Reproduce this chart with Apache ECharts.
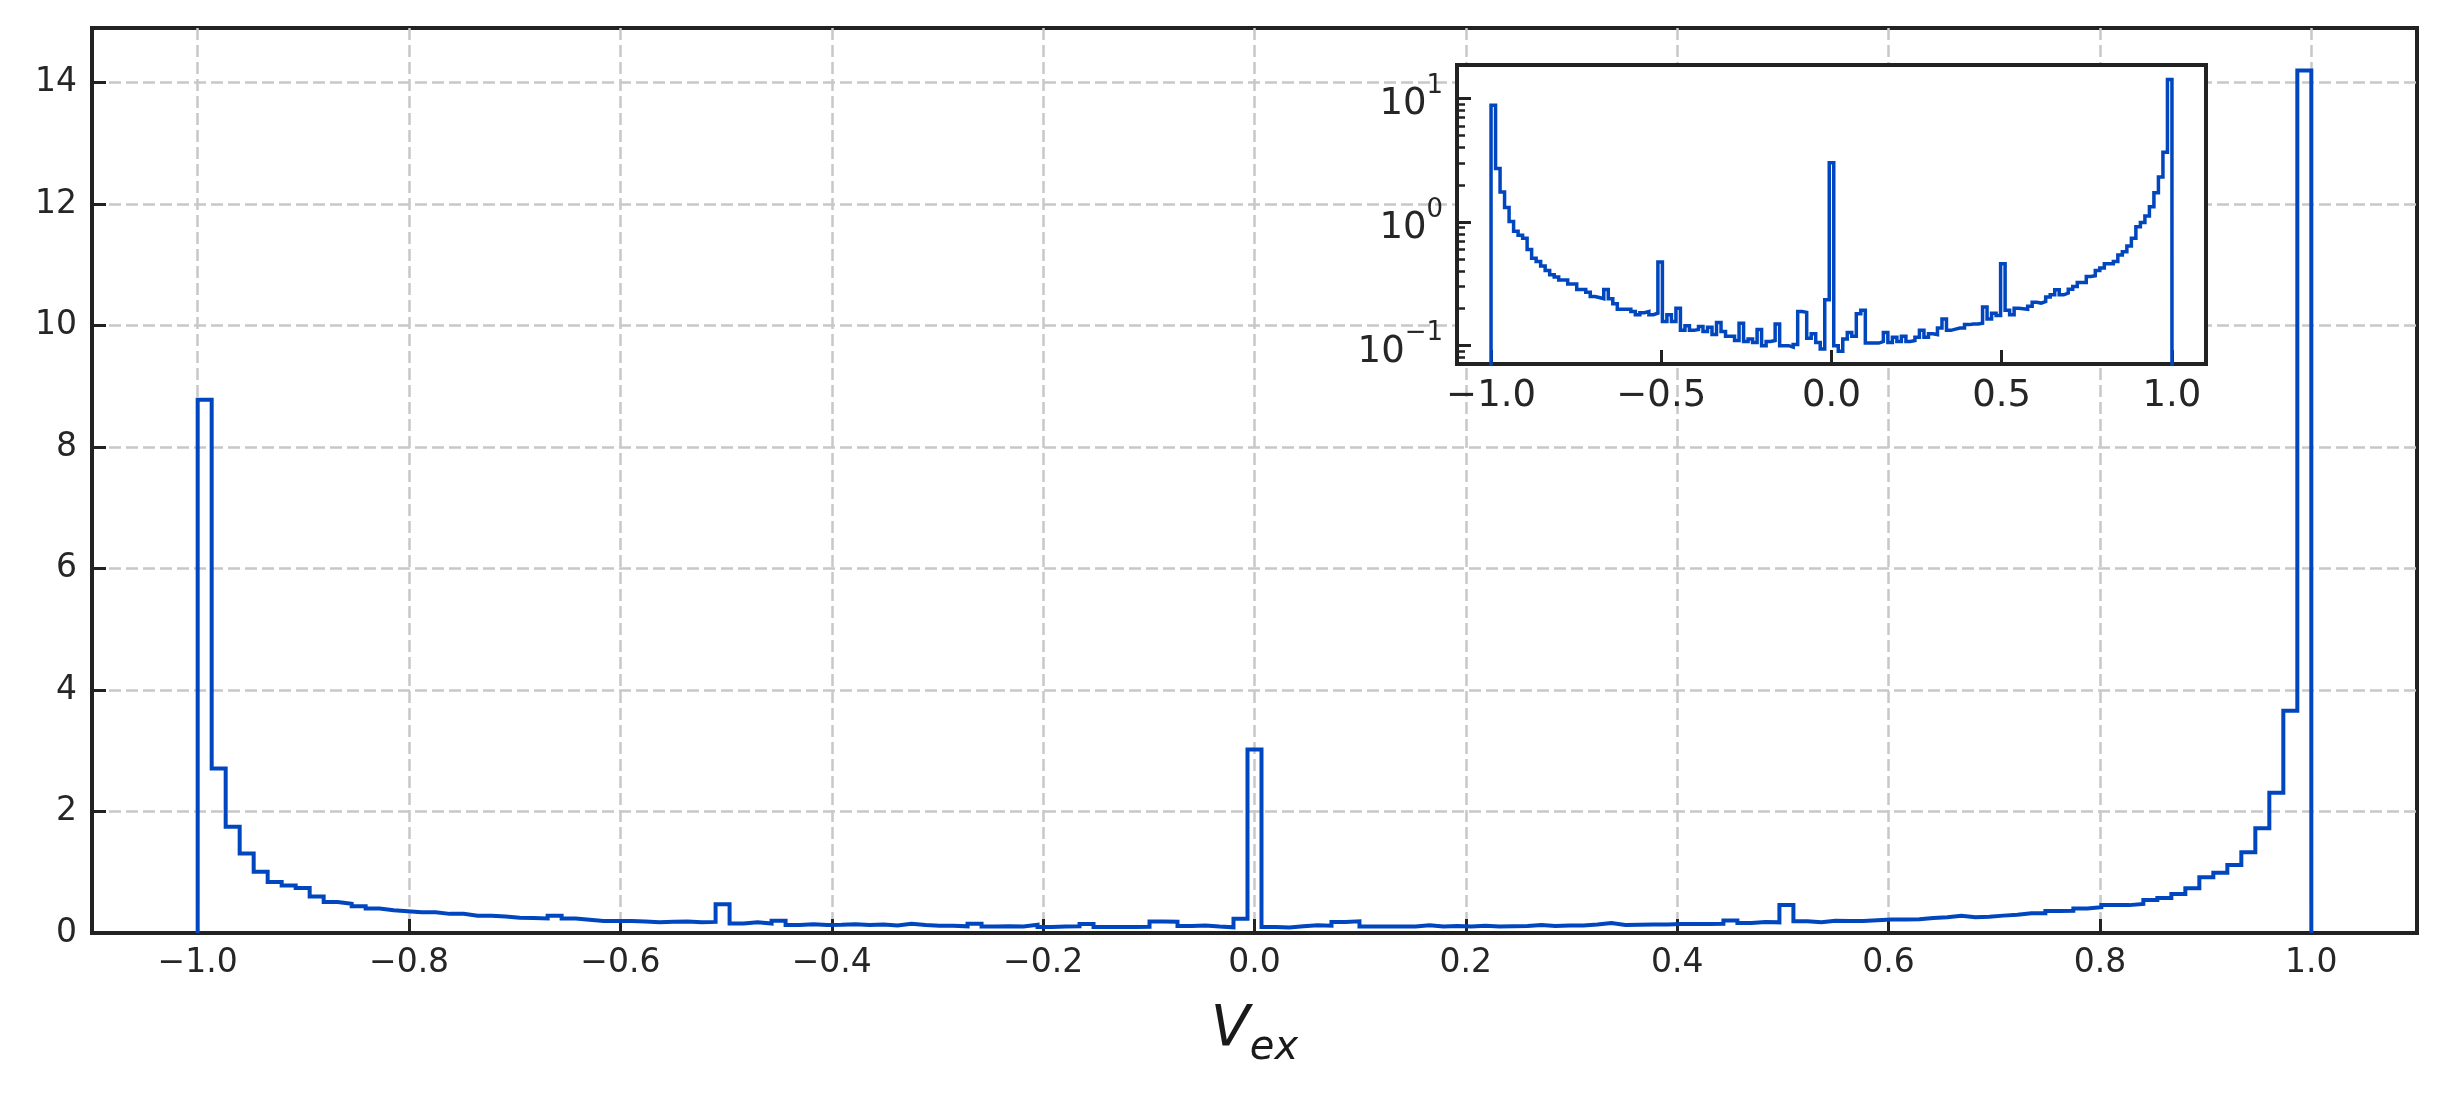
<!DOCTYPE html>
<html><head><meta charset="utf-8">
<script src="https://cdn.jsdelivr.net/npm/echarts@6/dist/echarts.min.js"></script>
<style>html,body{margin:0;padding:0;background:#fff}#c{width:2447px;height:1093px}</style>
</head><body><div id="c"></div>
<script>
// Histogram of V_ex: 151 equal bins over [-1, 1], density values
const BIN_MIN = -1;
const BIN_MAX = 1;
const densities = [
  8.78, 2.71, 1.75, 1.31, 1.01, 0.84, 0.78, 0.74, 0.60, 0.51,
  0.48, 0.44, 0.405, 0.375, 0.36, 0.34, 0.34, 0.315, 0.315, 0.285,
  0.285, 0.27, 0.25, 0.245, 0.24, 0.285, 0.24, 0.218, 0.197, 0.197,
  0.197, 0.189, 0.178, 0.185, 0.189, 0.178, 0.183, 0.475, 0.157, 0.178,
  0.157, 0.201, 0.133, 0.145, 0.133, 0.135, 0.143, 0.130, 0.141, 0.123,
  0.154, 0.130, 0.119, 0.119, 0.110, 0.152, 0.108, 0.113, 0.106, 0.135,
  0.100, 0.108, 0.110, 0.150, 0.100, 0.100, 0.0975, 0.102, 0.189, 0.186,
  0.115, 0.125, 0.106, 0.094, 0.235, 3.02, 0.100, 0.090, 0.113, 0.128,
  0.119, 0.181, 0.193, 0.105, 0.105, 0.105, 0.108, 0.128, 0.106, 0.117,
  0.108, 0.119, 0.108, 0.110, 0.117, 0.133, 0.117, 0.125, 0.123, 0.139,
  0.164, 0.133, 0.136, 0.139, 0.139, 0.148, 0.150, 0.150, 0.152, 0.205,
  0.164, 0.183, 0.175, 0.459, 0.193, 0.178, 0.201, 0.199, 0.197, 0.208,
  0.224, 0.221, 0.228, 0.247, 0.258, 0.283, 0.258, 0.266, 0.286, 0.301,
  0.324, 0.324, 0.362, 0.367, 0.405, 0.424, 0.459, 0.459, 0.479, 0.542,
  0.576, 0.641, 0.738, 0.917, 0.991, 1.118, 1.33, 1.725, 2.31, 3.66,
  14.2
];
const xTicks = [-1.0, -0.8, -0.6, -0.4, -0.2, 0.0, 0.2, 0.4, 0.6, 0.8, 1.0];
const yTicks = [0, 2, 4, 6, 8, 10, 12, 14];
const insetXTicks = [-1.0, -0.5, 0.0, 0.5, 1.0];
const insetYTicks = [0.1, 1, 10];
const insetYMinorTicks = [0.08, 0.09, 0.2, 0.3, 0.4, 0.5, 0.6, 0.7, 0.8, 0.9, 2, 3, 4, 5, 6, 7, 8, 9];

const FONT = 'DejaVu Sans';
const BLUE = '#0046BE';
const DARK = '#222222';
const LABEL = '#262626';

function outline(floor) {
  const n = densities.length;
  const w = (BIN_MAX - BIN_MIN) / n;
  const pts = [[BIN_MIN, floor]];
  densities.forEach((v, k) => {
    pts.push([BIN_MIN + k * w, v]);
    pts.push([BIN_MIN + (k + 1) * w, v]);
  });
  pts.push([BIN_MAX, floor]);
  return pts;
}
const fmtX = v => (v < 0 ? '\u2212' : '') + Math.abs(v).toFixed(1);
const fmtLog = v => {
  const e = Math.round(Math.log10(v));
  return '{b|10}{s|' + (e < 0 ? '\u2212' + (-e) : String(e)) + '}';
};
const noLine = {show: false, onZero: false};

const chart = echarts.init(document.getElementById('c'), null, {renderer: 'canvas'});
chart.setOption({
  animation: false,
  backgroundColor: '#ffffff',
  grid: [
    {left: 92, top: 28, width: 2325, height: 905, show: true, borderColor: DARK, borderWidth: 4,
     backgroundColor: 'rgba(0,0,0,0)', outerBoundsMode: 'none', containLabel: false, z: 0},
    {left: 1457, top: 65, width: 749, height: 299, show: true, borderColor: DARK, borderWidth: 4,
     backgroundColor: '#ffffff', outerBoundsMode: 'none', containLabel: false, z: 3}
  ],
  xAxis: [
    {type: 'value', gridIndex: 0, min: -1.1, max: 1.1, z: 1, position: 'bottom',
     name: '{v|V}{s|ex}', nameLocation: 'middle', nameGap: 70,
     nameTextStyle: {rich: {
       v: {fontFamily: FONT, fontStyle: 'italic', fontSize: 57, lineHeight: 57, color: '#1a1a1a', verticalAlign: 'top'},
       s: {fontFamily: FONT, fontStyle: 'italic', fontSize: 40, lineHeight: 40, color: '#1a1a1a', verticalAlign: 'top', padding: [26, 0, 0, 0]}
     }},
     axisLine: noLine,
     axisTick: {show: true, inside: true, length: 14, customValues: xTicks, lineStyle: {color: DARK, width: 3}},
     axisLabel: {show: true, customValues: xTicks, formatter: fmtX, fontFamily: FONT, fontSize: 33, color: LABEL, margin: 14},
     splitLine: {show: true, lineStyle: {color: '#c8c8c8', width: 2.5, type: [12, 5]}}
    },
    {type: 'value', gridIndex: 1, min: -1.1, max: 1.1, z: 3, position: 'bottom',
     axisLine: noLine,
     axisTick: {show: true, inside: true, length: 14, customValues: insetXTicks, lineStyle: {color: DARK, width: 3}},
     axisLabel: {show: true, customValues: insetXTicks, formatter: fmtX, fontFamily: FONT, fontSize: 37, color: LABEL, margin: 14},
     splitLine: {show: false}
    }
  ],
  yAxis: [
    {type: 'value', gridIndex: 0, min: 0, max: 14.9, z: 1, position: 'left',
     axisLine: noLine,
     axisTick: {show: true, inside: true, length: 14, customValues: yTicks, lineStyle: {color: DARK, width: 3}},
     axisLabel: {show: true, customValues: yTicks, formatter: v => String(v), fontFamily: FONT, fontSize: 33, color: LABEL, margin: 15},
     splitLine: {show: true, showMinLine: false, lineStyle: {color: '#c8c8c8', width: 2.5, type: [12, 5]}}
    },
    {type: 'log', logBase: 10, gridIndex: 1, min: 0.0711, max: 18.6, z: 3, position: 'left',
     axisLine: noLine,
     axisTick: {show: true, inside: true, length: 14, customValues: insetYTicks, lineStyle: {color: DARK, width: 3}},
     axisLabel: {show: true, customValues: insetYTicks, formatter: fmtLog, margin: 14,
       rich: {
         b: {fontFamily: FONT, fontSize: 37, lineHeight: 50, color: LABEL, verticalAlign: 'bottom'},
         s: {fontFamily: FONT, fontSize: 26, lineHeight: 26, color: LABEL, verticalAlign: 'top'}
       }},
     splitLine: {show: false}
    },
    {type: 'log', logBase: 10, gridIndex: 1, min: 0.0711, max: 18.6, z: 3, position: 'left',
     axisLine: noLine,
     axisTick: {show: true, inside: true, length: 8, customValues: insetYMinorTicks, lineStyle: {color: DARK, width: 2.5}},
     axisLabel: {show: false},
     splitLine: {show: false}
    }
  ],
  series: [
    {type: 'line', xAxisIndex: 0, yAxisIndex: 0, data: outline(0), showSymbol: false, symbol: 'none',
     clip: true, z: 2, lineStyle: {color: BLUE, width: 4, join: 'miter', cap: 'butt'}},
    {type: 'line', xAxisIndex: 1, yAxisIndex: 1, data: outline(0.001), showSymbol: false, symbol: 'none',
     clip: true, z: 4, lineStyle: {color: BLUE, width: 3.5, join: 'miter', cap: 'butt'}}
  ]
});
</script>
</body></html>
